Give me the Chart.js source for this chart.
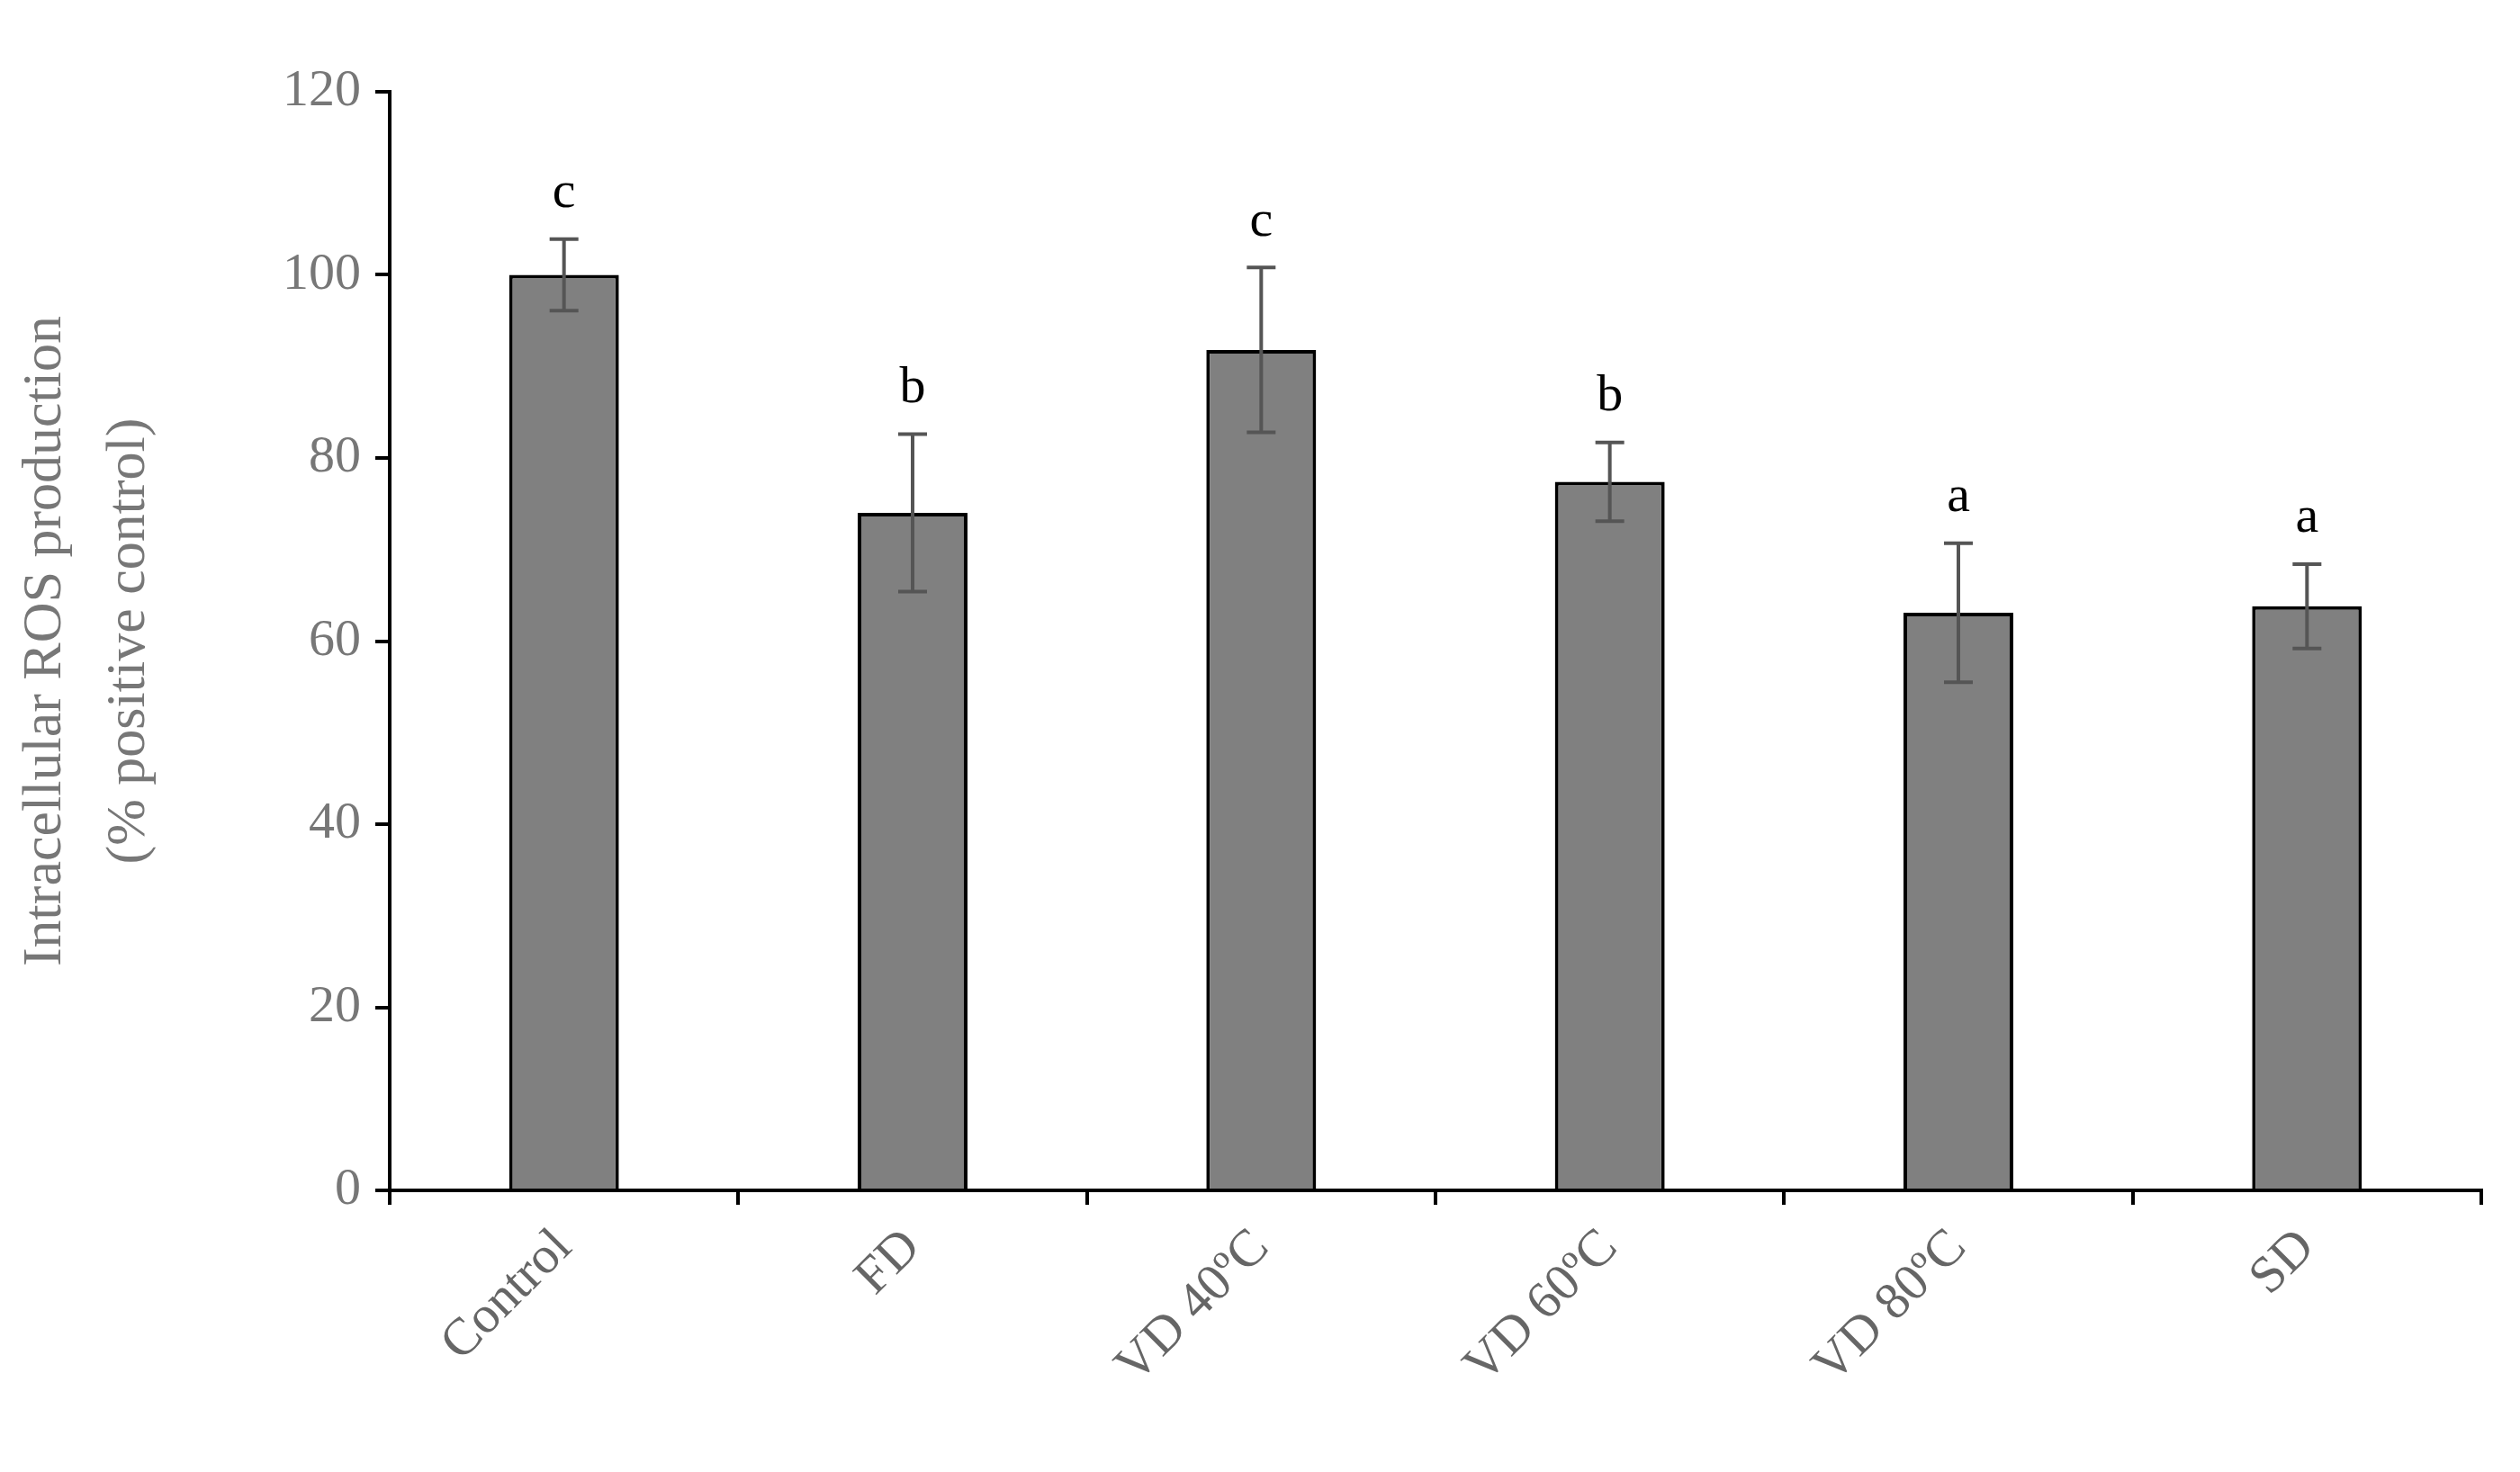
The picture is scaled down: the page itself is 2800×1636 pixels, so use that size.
<!DOCTYPE html>
<html><head><meta charset="utf-8">
<script src="https://cdn.jsdelivr.net/npm/chart.js@4/dist/chart.umd.min.js"></script>
<style>html,body{margin:0;padding:0;background:#fff}</style>
</head><body>
<canvas id="c" width="2800" height="1636"></canvas>
<script>
const categories = ["Control","FD","VD 40ºC","VD 60ºC","VD 80ºC","SD"];
const values = [100, 74, 91.8, 77.4, 63.1, 63.8];
const errors = [3.9, 8.6, 9.0, 4.3, 7.6, 4.6];
const letters = ["c","b","c","b","a","a"];
const yTicks = [0,20,40,60,80,100,120];

const FONT = "'Liberation Serif','DejaVu Serif',serif";
const errPlugin = {
  id:'err',
  afterDatasetsDraw(chart){
    const ctx = chart.ctx, x = chart.scales.x, y = chart.scales.y;
    ctx.save();
    values.forEach((v,i)=>{
      const cx = x.getPixelForValue(i);
      const top = y.getPixelForValue(v+errors[i]), bot = y.getPixelForValue(v-errors[i]);
      ctx.strokeStyle = '#555'; ctx.lineWidth = 4;
      ctx.beginPath();
      ctx.moveTo(cx, top); ctx.lineTo(cx, bot);
      ctx.moveTo(cx-16, top); ctx.lineTo(cx+16, top);
      ctx.moveTo(cx-16, bot); ctx.lineTo(cx+16, bot);
      ctx.stroke();
      ctx.fillStyle = '#000'; ctx.font = '58px '+FONT;
      ctx.textAlign = 'center'; ctx.textBaseline = 'bottom';
      ctx.fillText(letters[i], cx, top - 22);
    });
    ctx.restore();
  }
};

new Chart(document.getElementById('c'), {
  type:'bar',
  data:{labels:categories, datasets:[{data:values, backgroundColor:'#808080', borderColor:'#000', borderWidth:4, borderSkipped:'bottom', categoryPercentage:1, barPercentage:0.315}]},
  options:{
    responsive:false, animation:false, devicePixelRatio:1,
    layout:{padding:{top:102, right:43, left:0, bottom:0}},
    plugins:{legend:{display:false}, tooltip:{enabled:false}},
    scales:{
      x:{
        afterFit(s){ s.height = 313; },
        grid:{drawOnChartArea:false, offset:true, color:'#000', tickColor:'#000', tickLength:16, lineWidth:4},
        border:{color:'#000', width:4},
        ticks:{color:'#666', font:{family:FONT, size:58}, minRotation:45, maxRotation:45, padding:14}
      },
      y:{
        min:0, max:120,
        afterFit(s){ s.width = 433; },
        afterBuildTicks(s){ s.ticks = yTicks.map(v=>({value:v})); },
        grid:{drawOnChartArea:false, color:'#000', tickColor:'#000', tickLength:16, lineWidth:4},
        border:{color:'#000', width:4},
        ticks:{color:'#777', font:{family:FONT, size:58}, padding:16},
        title:{display:true, text:['Intracellular ROS production','(% positive control)'], color:'#777', font:{family:FONT, size:62, lineHeight:1.5}, padding:{bottom:20}}
      }
    }
  },
  plugins:[errPlugin]
});
</script>
</body></html>
